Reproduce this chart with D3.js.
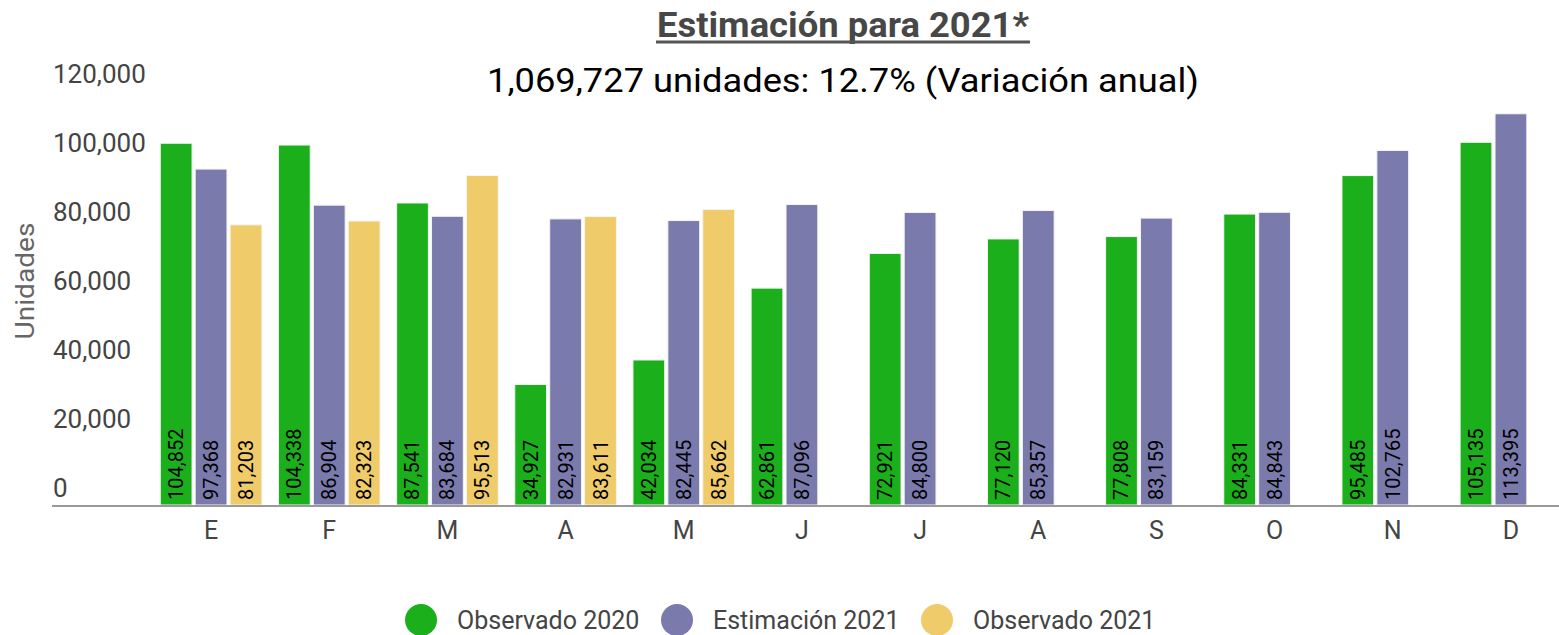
<!DOCTYPE html>
<html>
<head>
<meta charset="utf-8">
<script src="https://cdn.jsdelivr.net/npm/d3@7"></script>
<style>
  body { margin: 0; background: #fff; }
  svg { display: block; font-family: Roboto, "Noto Sans", sans-serif; }
</style>
</head>
<body>
<svg id="chart"></svg>
<script>
// months (initials, as in the reference)
var months = ["E", "F", "M", "A", "M", "J", "J", "A", "S", "O", "N", "D"];
var seriesNames = ["Observado 2020", "Estimación 2021", "Observado 2021"];
var seriesColors = ["#1bb01b", "#7a7aad", "#efcb6a"];

var observado2020 = [104852, 104338, 87541, 34927, 42034, 62861, 72921, 77120, 77808, 84331, 95485, 105135];
var estimacion2021 = [97368, 86904, 83684, 82931, 82445, 87096, 84800, 85357, 83159, 84843, 102765, 113395];
var observado2021 = [81203, 82323, 95513, 83611, 85662, null, null, null, null, null, null, null];

var yTicks = [0, 20000, 40000, 60000, 80000, 100000, 120000];

var titleText = "Estimación para 2021*";
var subtitleText = "1,069,727 unidades: 12.7% (Variación anual)";

var width = 1559, height = 635;

var svg = d3.select("#chart")
    .attr("width", width)
    .attr("height", height);

// build rows from the arrays
var series = [observado2020, estimacion2021, observado2021];
var rows = months.map(function(m, i) {
    return {
        idx: i,
        label: m,
        values: series.map(function(s, k) { return {k: k, v: s[i]}; })
    };
});

var x0 = d3.scaleBand()
    .domain(d3.range(months.length))
    .range([152, 1570])
    .paddingInner(0.14)
    .paddingOuter(0.07);

var x1 = d3.scaleBand()
    .domain([0, 1, 2])
    .range([0, x0.bandwidth()])
    .paddingInner(0.09);

var y = d3.scaleLinear()
    .domain([0, 120000])
    .range([505, 91]);

var fmt = d3.format(",");

// title, underlined
svg.append("text")
    .attr("x", 843)
    .attr("y", 37)
    .attr("text-anchor", "middle")
    .attr("font-size", 35)
    .attr("font-weight", "bold")
    .attr("fill", "#474747")
    .attr("textLength", 372)
    .attr("lengthAdjust", "spacingAndGlyphs")
    .text(titleText);

svg.append("line")
    .attr("x1", 656)
    .attr("x2", 1030)
    .attr("y1", 42)
    .attr("y2", 42)
    .style("stroke", "#555")
    .style("stroke-width", 3);

svg.append("text")
    .attr("x", 843)
    .attr("y", 92)
    .attr("text-anchor", "middle")
    .attr("font-size", 33)
    .attr("fill", "#000")
    .attr("textLength", 712)
    .attr("lengthAdjust", "spacingAndGlyphs")
    .text(subtitleText);

// y tick labels (sitting just above their value)
svg.append("g")
    .selectAll("text")
    .data(yTicks)
    .enter()
    .append("text")
    .attr("x", 53)
    .attr("y", function(d) { return y(d) - 8; })
    .attr("font-size", 26)
    .attr("fill", "#444")
    .text(function(d) { return fmt(d); });

// y axis title
svg.append("text")
    .attr("transform", "translate(34,281) rotate(-90)")
    .attr("text-anchor", "middle")
    .attr("font-size", 26)
    .attr("fill", "#666")
    .attr("textLength", 117)
    .attr("lengthAdjust", "spacingAndGlyphs")
    .text("Unidades");

// bars
var groups = svg.append("g")
    .selectAll("g")
    .data(rows)
    .enter()
    .append("g")
    .attr("transform", function(d) { return "translate(" + x0(d.idx) + ",0)"; });

var cells = groups.selectAll("g")
    .data(function(d) { return d.values.filter(function(e) { return e.v != null; }); })
    .enter()
    .append("g");

cells.append("rect")
    .attr("x", function(d) { return x1(d.k); })
    .attr("y", function(d) { return y(d.v); })
    .attr("width", x1.bandwidth())
    .attr("height", function(d) { return y(0) - y(d.v); })
    .style("fill", function(d) { return seriesColors[d.k]; })
    .style("stroke", "#f4f4f4")
    .style("stroke-width", 1);

cells.append("text")
    .attr("transform", function(d) {
        return "translate(" + (x1(d.k) + x1.bandwidth() / 2 + 7) + "," + (y(0) - 5) + ") rotate(-90)";
    })
    .attr("font-size", 20)
    .attr("fill", "#000")
    .text(function(d) { return fmt(d.v); });

// baseline
svg.append("line")
    .attr("x1", 52)
    .attr("x2", width)
    .attr("y1", y(0) + 1)
    .attr("y2", y(0) + 1)
    .style("stroke", "#999")
    .style("stroke-width", 2);

// x labels
svg.append("g")
    .selectAll("text")
    .data(rows)
    .enter()
    .append("text")
    .attr("x", function(d) { return x0(d.idx) + x0.bandwidth() / 2; })
    .attr("y", 539)
    .attr("text-anchor", "middle")
    .attr("font-size", 25)
    .attr("fill", "#444")
    .text(function(d) { return d.label; });

// legend
var legendX = [421, 677, 937];
var legend = svg.append("g")
    .selectAll("g")
    .data(seriesNames)
    .enter()
    .append("g")
    .attr("transform", function(d, i) { return "translate(" + legendX[i] + ",620)"; });

legend.append("circle")
    .attr("r", 16)
    .style("fill", function(d, i) { return seriesColors[i]; });

legend.append("text")
    .attr("x", 36)
    .attr("y", 9)
    .attr("font-size", 25)
    .attr("fill", "#444")
    .text(function(d) { return d; });
</script>
</body>
</html>
